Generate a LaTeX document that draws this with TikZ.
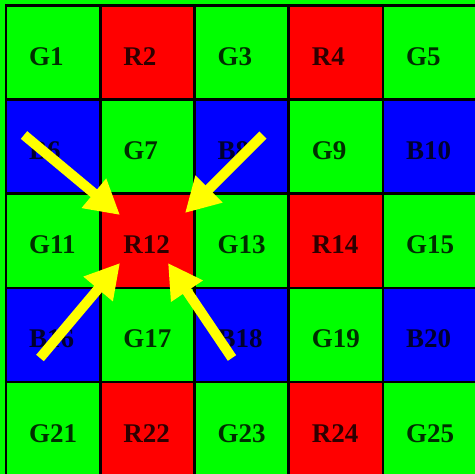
\documentclass[tikz,border=0pt]{standalone}
\usepackage{fontspec}
\setmainfont{Liberation Serif}
\usetikzlibrary{arrows.meta}
\definecolor{cg}{RGB}{0,255,0}
\definecolor{cr}{RGB}{255,0,0}
\definecolor{cb}{RGB}{0,0,255}
\definecolor{cy}{RGB}{255,255,0}
\begin{document}
\begin{tikzpicture}[x=1pt,y=-1pt,
  cell/.style={draw=black, line width=2.6pt, minimum size=94.2pt, inner sep=0pt, outer sep=0pt, anchor=north west},
  lab/.style={anchor=base west, xshift=23pt, yshift=-60pt, inner sep=0pt, font=\fontsize{27}{30}\selectfont\bfseries, text=black, text opacity=0.82},
  yarrow/.style={draw=cy, line width=10pt, -{Triangle[length=34pt,width=36pt]}}]
\fill[cg] (0,0) rectangle (475,474);
\useasboundingbox (0,0) rectangle (475,474);
\foreach \txt/\col [count=\i from 0] in {G1/cg,R2/cr,G3/cg,R4/cr,G5/cg,
  B6/cb,G7/cg,B8/cb,G9/cg,B10/cb,
  G11/cg,R12/cr,G13/cg,R14/cr,G15/cg,
  B16/cb,G17/cg,B18/cb,G19/cg,B20/cb,
  G21/cg,R22/cr,G23/cg,R24/cr,G25/cg}{
  \pgfmathtruncatemacro{\cx}{mod(\i,5)}
  \pgfmathtruncatemacro{\cyy}{int(\i/5)}
  \node[cell, fill=\col, label={[lab]north west:\txt}] (c\txt) at (6+94.2*\cx, 5.3+94.2*\cyy) {};
}
\coordinate (t1) at (24,135);  \coordinate (h1) at (120,215);
\coordinate (t2) at (263,135); \coordinate (h2) at (185,213);
\coordinate (t3) at (40,358);  \coordinate (h3) at (120,263);
\coordinate (t4) at (232,358); \coordinate (h4) at (168,263);
\draw[yarrow] (t1) -- (h1);
\draw[yarrow] (t2) -- (h2);
\draw[yarrow] (t3) -- (h3);
\draw[yarrow] (t4) -- (h4);
\end{tikzpicture}
\end{document}
